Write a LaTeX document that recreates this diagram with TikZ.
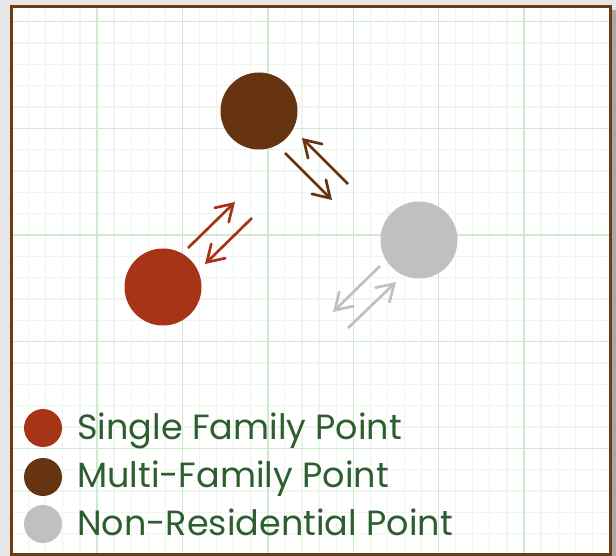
\documentclass[tikz,border=0pt]{standalone}
\usepackage{fontspec}
\setmainfont{Poppins}
\usetikzlibrary{arrows.meta}

\definecolor{pagegrey}{HTML}{E6E6E6}
\definecolor{shadowgrey}{HTML}{A8A8A8}
\definecolor{framebrown}{HTML}{6B3C15}
\definecolor{majorgrid}{HTML}{CFE9CF}
\definecolor{minorgrid}{HTML}{EDF5ED}
\definecolor{sfred}{HTML}{A83418}
\definecolor{mfbrown}{HTML}{663410}
\definecolor{nrgrey}{HTML}{C0C0C0}
\definecolor{legendgreen}{HTML}{2D5E2F}

\tikzset{
  point/.style={circle, inner sep=0pt, minimum size=77pt},
  legenddot/.style={circle, inner sep=0pt, minimum size=38pt},
  legendtext/.style={anchor=base west, inner sep=0pt, text=legendgreen, font=\fontsize{35}{40}\selectfont},
  flow/.style={line width=2.7pt, -{Straight Barb[length=16pt, width=20pt, line cap=round]}},
  minorline/.style={draw=minorgrid, line width=1.2pt},
  majorline/.style={draw=majorgrid, line width=1.4pt},
}

\begin{document}
\begin{tikzpicture}[x=1pt, y=-1pt]
  \useasboundingbox (0,0) rectangle (616,556);
  % page and drop shadow
  \fill[pagegrey] (0,0) rectangle (616,556);
  \fill[shadowgrey] (611,10) rectangle (616,556);
  \fill[white] (11,7) rectangle (610,554);

  % graph-paper grid
  \begin{scope}
    \clip (11,7) rectangle (610,554);
    \foreach \i in {1,...,35} {
      \pgfmathsetmacro{\gx}{11.6+17.08*\i}
      \draw[minorline] (\gx,7) -- (\gx,554);
    }
    \foreach \j in {0,...,26} {
      \pgfmathsetmacro{\gy}{0.4+21.33*\j}
      \draw[minorline] (11,\gy) -- (610,\gy);
    }
    \foreach \i in {1,...,7} {
      \pgfmathsetmacro{\gx}{11.6+85.4*\i}
      \draw[majorline] (\gx,7) -- (\gx,554);
    }
    \foreach \j in {0,...,5} {
      \pgfmathsetmacro{\gy}{21.7+106.67*\j}
      \draw[majorline] (11,\gy) -- (610,\gy);
    }
  \end{scope}
  \draw[framebrown, line width=3pt] (11,7) rectangle (610,554);

  % points
  \node[point, fill=mfbrown] (mf) at (259,111) {};
  \node[point, fill=sfred]   (sf) at (163,287) {};
  \node[point, fill=nrgrey]  (nr) at (419,240) {};

  % arrow end points
  \coordinate (sfA1) at (188,248); \coordinate (sfA2) at (235,202);
  \coordinate (sfB1) at (252,218); \coordinate (sfB2) at (205,264);
  \coordinate (mfA1) at (285,153); \coordinate (mfA2) at (332,200);
  \coordinate (mfB1) at (348,184); \coordinate (mfB2) at (302,138);
  \coordinate (nrA1) at (380,266); \coordinate (nrA2) at (333,312);
  \coordinate (nrB1) at (348,328); \coordinate (nrB2) at (396,282);

  \draw[flow, sfred]  (sfA1) -- (sfA2);
  \draw[flow, sfred]  (sfB1) -- (sfB2);
  \draw[flow, mfbrown] (mfA1) -- (mfA2);
  \draw[flow, mfbrown] (mfB1) -- (mfB2);
  \draw[flow, nrgrey] (nrA1) -- (nrA2);
  \draw[flow, nrgrey] (nrB1) -- (nrB2);

  % legend
  \node[legenddot, fill=sfred]   (ksf) at (43,428) {};
  \node[legenddot, fill=mfbrown] (kmf) at (43,477) {};
  \node[legenddot, fill=nrgrey]  (knr) at (43,524) {};
  \node[legendtext] (tsf) at (77,439) {Single Family Point};
  \node[legendtext] (tmf) at (77,487) {Multi-Family Point};
  \node[legendtext] (tnr) at (77,535) {Non-Residential Point};
\end{tikzpicture}
\end{document}
